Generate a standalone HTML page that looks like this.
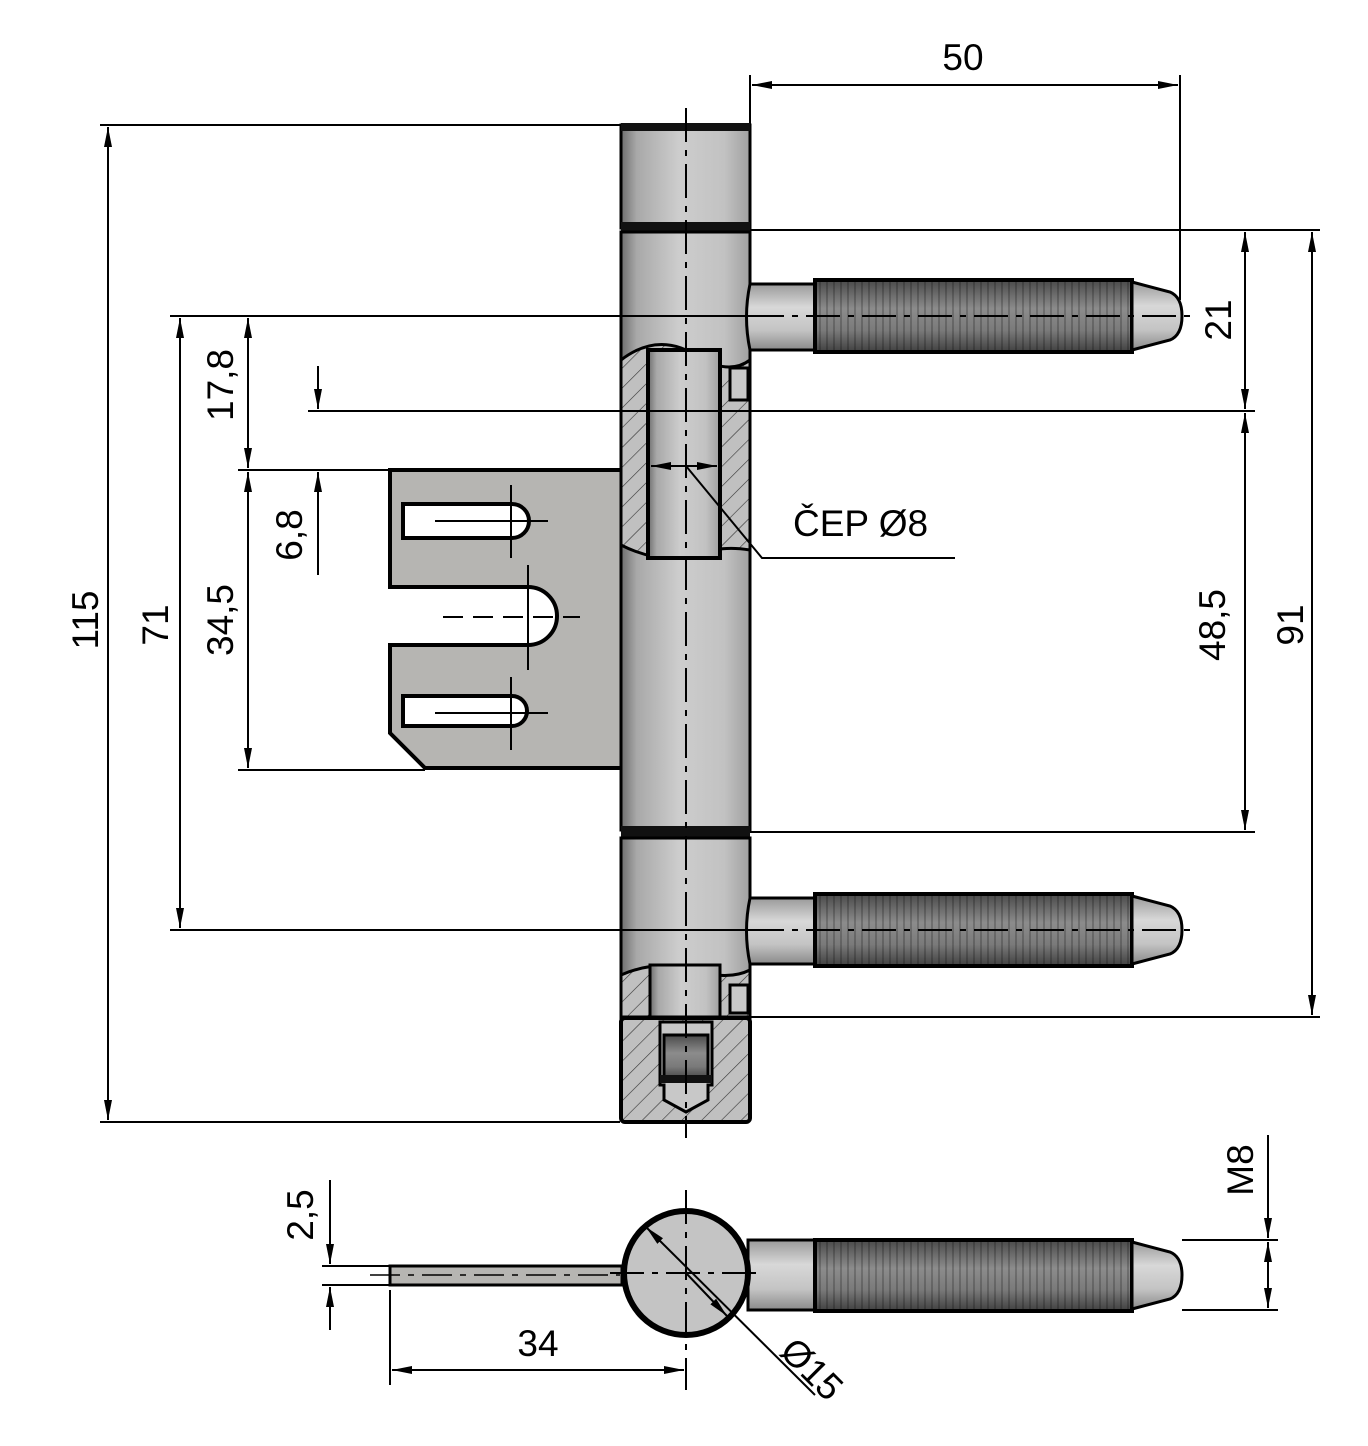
<!DOCTYPE html>
<html><head><meta charset="utf-8"><style>
html,body{margin:0;padding:0;background:#fff}
svg{display:block}
text{font-family:"Liberation Sans",Arial,sans-serif;font-size:37px;fill:#000}
</style></head><body>
<svg width="1368" height="1446" viewBox="0 0 1368 1446" xmlns="http://www.w3.org/2000/svg">
<defs>
<linearGradient id="bar" x1="0" x2="1" y1="0" y2="0">
<stop offset="0" stop-color="#6e6e6e"/><stop offset="0.12" stop-color="#a8a8a8"/><stop offset="0.45" stop-color="#cdcdcd"/><stop offset="0.8" stop-color="#c2c2c2"/><stop offset="1" stop-color="#a0a0a0"/>
</linearGradient>
<linearGradient id="shank" x1="0" x2="0" y1="0" y2="1">
<stop offset="0" stop-color="#9a9a9a"/><stop offset="0.35" stop-color="#d8d8d8"/><stop offset="0.7" stop-color="#c4c4c4"/><stop offset="1" stop-color="#8a8a8a"/>
</linearGradient>
<linearGradient id="thr" x1="0" x2="0" y1="0" y2="1">
<stop offset="0" stop-color="#4a4a4a"/><stop offset="0.4" stop-color="#8c8c8c"/><stop offset="0.7" stop-color="#7a7a7a"/><stop offset="1" stop-color="#404040"/>
</linearGradient>
<pattern id="stripes" width="7" height="10" patternUnits="userSpaceOnUse">
<rect width="7" height="10" fill="none"/><rect x="0" width="2" height="10" fill="#000" opacity="0.2"/>
</pattern>
<pattern id="hatch" width="14" height="14" patternUnits="userSpaceOnUse" patternTransform="rotate(45)">
<rect width="14" height="14" fill="#c0c0c0"/><line x1="0" y1="0" x2="0" y2="14" stroke="#333" stroke-width="1.2"/>
</pattern>
<marker id="a" viewBox="0 0 20 10" refX="20" refY="5" markerWidth="20" markerHeight="10" markerUnits="userSpaceOnUse" orient="auto-start-reverse">
<path d="M0,1 L20,5 L0,9 z" fill="#000"/>
</marker>
</defs>

<g stroke="#000" stroke-width="2" fill="none">
<line x1="100" y1="125" x2="620" y2="125"/>
<line x1="100" y1="1122" x2="620" y2="1122"/>
<line x1="238" y1="470" x2="390" y2="470"/>
<line x1="238" y1="770" x2="425" y2="770"/>
<line x1="750" y1="230" x2="1320" y2="230"/>
<line x1="750" y1="832" x2="1255" y2="832"/>
<line x1="750" y1="1017" x2="1320" y2="1017"/>
<line x1="750" y1="75" x2="750" y2="125"/>
<line x1="1180" y1="75" x2="1180" y2="300"/>
</g>

<!-- plate -->
<path d="M390,470 H622 V768 H425 L390,733 V645 H528 A29,29 0 0 0 528,587 H390 Z" fill="#b6b5b2" stroke="#000" stroke-width="4"/>
<path d="M403,504 H512 A17,17 0 0 1 512,538 H403 Z" fill="#fff" stroke="#000" stroke-width="4"/>
<path d="M403,696 H512 A15,15 0 0 1 512,726 H403 Z" fill="#fff" stroke="#000" stroke-width="4"/>
<g stroke="#000" stroke-width="2">
<line x1="435" y1="521" x2="548" y2="521"/><line x1="511" y1="485" x2="511" y2="558"/>
<line x1="435" y1="713" x2="548" y2="713"/><line x1="511" y1="677" x2="511" y2="750"/>
<line x1="443" y1="617" x2="580" y2="617" stroke-dasharray="20,10"/><line x1="528" y1="565" x2="528" y2="670"/>
</g>

<!-- barrel -->
<rect x="621" y="125" width="129" height="103" fill="url(#bar)" stroke="#000" stroke-width="3"/>
<rect x="621" y="123" width="129" height="8" fill="#111"/>
<rect x="621" y="222" width="129" height="10" fill="#111"/>
<rect x="621" y="232" width="129" height="598" fill="url(#bar)" stroke="#000" stroke-width="3"/>
<rect x="621" y="826" width="129" height="12" fill="#111"/>
<rect x="621" y="838" width="129" height="180" fill="url(#bar)" stroke="#000" stroke-width="3"/>
<path d="M621,360 Q660,330 700,358 Q730,375 750,360 V550 Q720,545 700,555 Q660,565 621,545 Z" fill="url(#hatch)" stroke="#000" stroke-width="3"/>
<rect x="648" y="350" width="72" height="208" fill="url(#bar)" stroke="#000" stroke-width="4"/>
<rect x="730" y="368" width="18" height="32" fill="#c8c8c8" stroke="#000" stroke-width="3"/>
<path d="M621,975 Q660,958 700,972 Q730,980 750,970 V1017 H621 Z" fill="url(#hatch)" stroke="#000" stroke-width="3"/>
<rect x="650" y="965" width="70" height="52" fill="url(#bar)" stroke="#000" stroke-width="3"/>
<rect x="730" y="985" width="18" height="28" fill="#c8c8c8" stroke="#000" stroke-width="3"/>
<rect x="621" y="1018" width="129" height="104" rx="4" fill="url(#hatch)" stroke="#000" stroke-width="4"/>
<path d="M660,1022 H712 V1085 H708 V1100 L686,1112 L664,1100 V1085 H660 Z" fill="#c8c8c8" stroke="#000" stroke-width="3"/>
<rect x="664" y="1035" width="44" height="45" fill="url(#thr)" stroke="#000" stroke-width="3"/>
<rect x="660" y="1075" width="52" height="8" fill="#111"/>

<!-- pins -->
<g id="pin">
<path d="M750,284 H815 V350 H750 Q743,317 750,284 Z" fill="url(#shank)" stroke="#000" stroke-width="3"/>
<rect x="815" y="280" width="317" height="72" fill="url(#thr)" stroke="#000" stroke-width="4"/>
<rect x="815" y="280" width="317" height="72" fill="url(#stripes)"/>
<path d="M1132,282 L1170,292 Q1182,297 1182,316 Q1182,335 1170,340 L1132,350 Z" fill="url(#shank)" stroke="#000" stroke-width="3"/>
</g>
<use href="#pin" transform="translate(0,614)"/>

<!-- extension lines over barrel -->
<g stroke="#000" stroke-width="2" fill="none">
<line x1="170" y1="316" x2="750" y2="316"/>
<line x1="170" y1="930" x2="750" y2="930"/>
<line x1="308" y1="411" x2="1255" y2="411"/>
</g>

<g stroke="#000" stroke-width="2" stroke-dasharray="34,8,6,8">
<line x1="686" y1="108" x2="686" y2="1138"/>
</g>
<line x1="750" y1="316" x2="1190" y2="316" stroke="#000" stroke-width="2" stroke-dasharray="34,8,6,8"/>
<line x1="750" y1="930" x2="1190" y2="930" stroke="#000" stroke-width="2" stroke-dasharray="34,8,6,8"/>

<g stroke="#000" stroke-width="2" fill="none">
<line x1="651" y1="466" x2="717" y2="466" marker-start="url(#a)" marker-end="url(#a)"/>
<polyline points="686,466 762,558 955,558"/>
</g>
<text x="793" y="536">ČEP Ø8</text>

<g stroke="#000" stroke-width="2" fill="none">
<line x1="752" y1="85" x2="1178" y2="85" marker-start="url(#a)" marker-end="url(#a)"/>
<line x1="108" y1="127" x2="108" y2="1120" marker-start="url(#a)" marker-end="url(#a)"/>
<line x1="180" y1="318" x2="180" y2="928" marker-start="url(#a)" marker-end="url(#a)"/>
<line x1="248" y1="318" x2="248" y2="468" marker-start="url(#a)" marker-end="url(#a)"/>
<line x1="248" y1="472" x2="248" y2="768" marker-start="url(#a)" marker-end="url(#a)"/>
<line x1="318" y1="366" x2="318" y2="409" marker-end="url(#a)"/>
<line x1="318" y1="575" x2="318" y2="472" marker-end="url(#a)"/>
<line x1="1245" y1="232" x2="1245" y2="409" marker-start="url(#a)" marker-end="url(#a)"/>
<line x1="1245" y1="413" x2="1245" y2="830" marker-start="url(#a)" marker-end="url(#a)"/>
<line x1="1312" y1="232" x2="1312" y2="1015" marker-start="url(#a)" marker-end="url(#a)"/>
</g>
<text x="963" y="70" text-anchor="middle">50</text>
<text transform="translate(98,620) rotate(-90)" text-anchor="middle">115</text>
<text transform="translate(168,625) rotate(-90)" text-anchor="middle">71</text>
<text transform="translate(233,385) rotate(-90)" text-anchor="middle">17,8</text>
<text transform="translate(233,620) rotate(-90)" text-anchor="middle">34,5</text>
<text transform="translate(302,535) rotate(-90)" text-anchor="middle">6,8</text>
<text transform="translate(1231,320) rotate(-90)" text-anchor="middle">21</text>
<text transform="translate(1225,625) rotate(-90)" text-anchor="middle">48,5</text>
<text transform="translate(1303,625) rotate(-90)" text-anchor="middle">91</text>

<!-- bottom view -->
<rect x="390" y="1266" width="232" height="19" fill="#b6b5b2" stroke="#000" stroke-width="3"/>
<line x1="370" y1="1275" x2="620" y2="1275" stroke="#000" stroke-width="1.5" stroke-dasharray="30,8,6,8"/>
<path d="M748,1240 H815 V1310 H748 Z" fill="url(#shank)" stroke="#000" stroke-width="3"/>
<rect x="815" y="1240" width="317" height="71" fill="url(#thr)" stroke="#000" stroke-width="4"/>
<rect x="815" y="1240" width="317" height="71" fill="url(#stripes)"/>
<path d="M1132,1242 L1170,1252 Q1182,1257 1182,1275 Q1182,1294 1170,1299 L1132,1309 Z" fill="url(#shank)" stroke="#000" stroke-width="3"/>
<circle cx="686" cy="1273" r="62" fill="#c4c4c4" stroke="#000" stroke-width="6"/>
<g stroke="#000" stroke-width="2" fill="none">
<line x1="686" y1="1190" x2="686" y2="1390" stroke-dasharray="34,8,6,8"/>
<line x1="610" y1="1273" x2="760" y2="1273" stroke-dasharray="34,8,6,8"/>
<line x1="646" y1="1227" x2="815" y2="1395" marker-start="url(#a)"/>
<line x1="686" y1="1273" x2="727" y2="1316" marker-end="url(#a)"/>
<line x1="322" y1="1266" x2="390" y2="1266"/>
<line x1="322" y1="1285" x2="390" y2="1285"/>
<line x1="330" y1="1180" x2="330" y2="1264" marker-end="url(#a)"/>
<line x1="330" y1="1330" x2="330" y2="1287" marker-end="url(#a)"/>
<line x1="390" y1="1290" x2="390" y2="1385"/>
<line x1="392" y1="1370" x2="684" y2="1370" marker-start="url(#a)" marker-end="url(#a)"/>
<line x1="1182" y1="1240" x2="1278" y2="1240"/>
<line x1="1182" y1="1310" x2="1278" y2="1310"/>
<line x1="1268" y1="1135" x2="1268" y2="1238" marker-end="url(#a)"/>
<line x1="1268" y1="1242" x2="1268" y2="1308" marker-start="url(#a)" marker-end="url(#a)"/>
</g>
<text transform="translate(313,1215) rotate(-90)" text-anchor="middle">2,5</text>
<text x="538" y="1356" text-anchor="middle">34</text>
<text transform="translate(803,1378) rotate(45)" text-anchor="middle">Ø15</text>
<text transform="translate(1253,1170) rotate(-90)" text-anchor="middle">M8</text>
</svg>
</body></html>
